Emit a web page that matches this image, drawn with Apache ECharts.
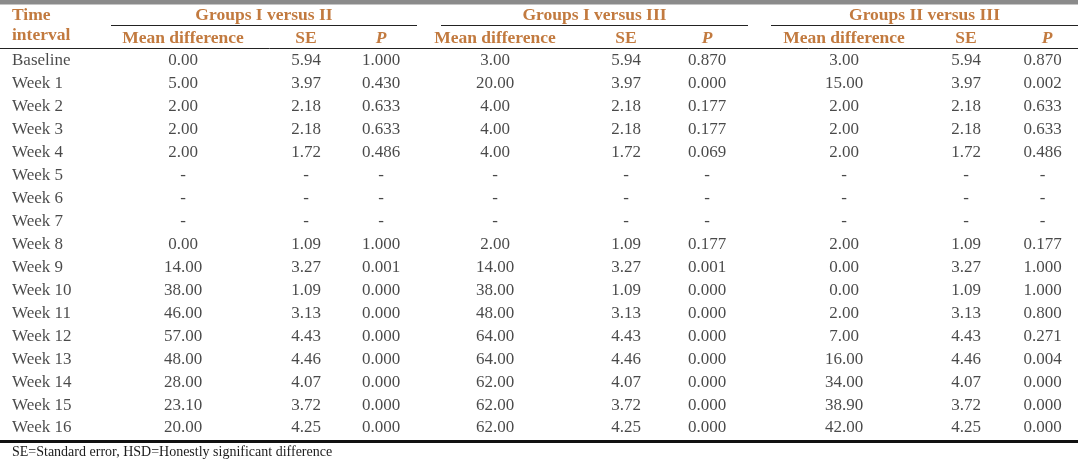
<!DOCTYPE html>
<html>
<head>
<meta charset="utf-8">
<script src="https://cdn.jsdelivr.net/npm/echarts@6/dist/echarts.min.js"></script>
<style>
html,body{margin:0;padding:0;background:#fff;}
#c{width:1078px;height:460px;}
</style>
</head>
<body>
<div id="c"></div>
<script>
// ---- data ----
var rowLabels = ['Baseline','Week 1','Week 2','Week 3','Week 4','Week 5','Week 6','Week 7','Week 8','Week 9','Week 10','Week 11','Week 12','Week 13','Week 14','Week 15','Week 16'];
var g12Mean = [0.00, 5.00, 2.00, 2.00, 2.00, null, null, null, 0.00, 14.00, 38.00, 46.00, 57.00, 48.00, 28.00, 23.10, 20.00];
var g12SE   = [5.94, 3.97, 2.18, 2.18, 1.72, null, null, null, 1.09, 3.27, 1.09, 3.13, 4.43, 4.46, 4.07, 3.72, 4.25];
var g12P    = [1.000, 0.430, 0.633, 0.633, 0.486, null, null, null, 1.000, 0.001, 0.000, 0.000, 0.000, 0.000, 0.000, 0.000, 0.000];
var g13Mean = [3.00, 20.00, 4.00, 4.00, 4.00, null, null, null, 2.00, 14.00, 38.00, 48.00, 64.00, 64.00, 62.00, 62.00, 62.00];
var g13SE   = [5.94, 3.97, 2.18, 2.18, 1.72, null, null, null, 1.09, 3.27, 1.09, 3.13, 4.43, 4.46, 4.07, 3.72, 4.25];
var g13P    = [0.870, 0.000, 0.177, 0.177, 0.069, null, null, null, 0.177, 0.001, 0.000, 0.000, 0.000, 0.000, 0.000, 0.000, 0.000];
var g23Mean = [3.00, 15.00, 2.00, 2.00, 2.00, null, null, null, 2.00, 0.00, 0.00, 2.00, 7.00, 16.00, 34.00, 38.90, 42.00];
var g23SE   = [5.94, 3.97, 2.18, 2.18, 1.72, null, null, null, 1.09, 3.27, 1.09, 3.13, 4.43, 4.46, 4.07, 3.72, 4.25];
var g23P    = [0.870, 0.002, 0.633, 0.633, 0.486, null, null, null, 0.177, 1.000, 1.000, 0.800, 0.271, 0.004, 0.000, 0.000, 0.000];
var groupTitles = ['Groups I versus II','Groups I versus III','Groups II versus III'];
var subTitles = ['Mean difference','SE','P'];
var stubTitle = ['Time','interval'];
var footnote = 'SE=Standard error, HSD=Honestly significant difference';

// ---- layout ----
var W = 1078;
var FONT = '"Liberation Serif","Times New Roman",serif';
var HEAD = '#c27a3f';
var INK = '#1c1c1c';
var BODY_SIZE = 17, HEAD_SIZE = 17.5, FOOT_SIZE = 14;
var bodyTop = 49.5, bodyHeight = 390;
var colCenters = [183, 306, 381, 495, 626, 707, 844, 966, 1047];
var groupSpans = [[111, 417], [441, 748], [771, 1078]];
var columns = [
  {vals: g12Mean, dec: 2}, {vals: g12SE, dec: 2}, {vals: g12P, dec: 3},
  {vals: g13Mean, dec: 2}, {vals: g13SE, dec: 2}, {vals: g13P, dec: 3},
  {vals: g23Mean, dec: 2}, {vals: g23SE, dec: 2}, {vals: g23P, dec: 3}
];

var grids = [], xAxes = [], yAxes = [], series = [];
function addColumn(left, width, values, fmt, labelPos) {
  var i = grids.length;
  grids.push({left: left, width: width, top: bodyTop, height: bodyHeight, containLabel: false});
  xAxes.push({type: 'category', gridIndex: i, data: ['c'], show: false});
  yAxes.push({type: 'category', gridIndex: i, data: rowLabels, inverse: true, show: false});
  series.push({
    type: 'scatter', xAxisIndex: i, yAxisIndex: i,
    symbol: 'circle', symbolSize: 0, silent: true, animation: false,
    itemStyle: {color: 'rgba(0,0,0,0)'},
    data: values.map(function (v, r) { return {value: ['c', rowLabels[r]], raw: v}; }),
    label: {
      show: true, position: labelPos, distance: 0,
      fontFamily: FONT, fontSize: BODY_SIZE, color: INK,
      formatter: function (p) { return fmt(p.data.raw); }
    }
  });
}
// stub column (row labels)
addColumn(12, 0, rowLabels, function (v) { return v; }, 'right');
columns.forEach(function (c, k) {
  addColumn(colCenters[k] - 40, 80, c.vals, function (v) {
    return v === null ? '-' : v.toFixed(c.dec);
  }, 'inside');
});

var graphic = [];
// top gray band
graphic.push({type: 'rect', shape: {x: 0, y: 0, width: W, height: 4.5}, style: {fill: '#8b8b8b'}, silent: true});
// stub title
stubTitle.forEach(function (t, i) {
  graphic.push({type: 'text', x: 12, y: i === 0 ? 15 : 35, silent: true,
    style: {text: t, fill: HEAD, font: 'bold ' + HEAD_SIZE + 'px ' + FONT, textAlign: 'left', textVerticalAlign: 'middle'}});
});
// group titles + underlines
groupTitles.forEach(function (t, g) {
  var s = groupSpans[g];
  graphic.push({type: 'text', x: (s[0] + s[1]) / 2, y: 15, silent: true,
    style: {text: t, fill: HEAD, font: 'bold ' + HEAD_SIZE + 'px ' + FONT, textAlign: 'center', textVerticalAlign: 'middle'}});
  graphic.push({type: 'line', shape: {x1: s[0], y1: 25.5, x2: s[1], y2: 25.5}, style: {stroke: '#222', lineWidth: 1}, silent: true});
});
// sub titles
colCenters.forEach(function (cx, k) {
  var t = subTitles[k % 3];
  var italic = (t === 'P') ? 'italic ' : '';
  graphic.push({type: 'text', x: cx, y: 38, silent: true,
    style: {text: t, fill: HEAD, font: italic + 'bold ' + HEAD_SIZE + 'px ' + FONT, textAlign: 'center', textVerticalAlign: 'middle'}});
});
// header rule
graphic.push({type: 'line', shape: {x1: 0, y1: 48.5, x2: W, y2: 48.5}, style: {stroke: '#222', lineWidth: 1}, silent: true});
// bottom thick rule
graphic.push({type: 'rect', shape: {x: 0, y: 440, width: W, height: 3}, style: {fill: '#111'}, silent: true});
// footnote
graphic.push({type: 'text', x: 12, y: 452.5, silent: true,
  style: {text: footnote, fill: INK, font: FOOT_SIZE + 'px ' + FONT, textAlign: 'left', textVerticalAlign: 'middle'}});

var chart = echarts.init(document.getElementById('c'), null, {renderer: 'canvas'});
chart.setOption({
  animation: false,
  backgroundColor: '#fff',
  grid: grids, xAxis: xAxes, yAxis: yAxes, series: series,
  graphic: graphic
});
</script>
</body>
</html>
